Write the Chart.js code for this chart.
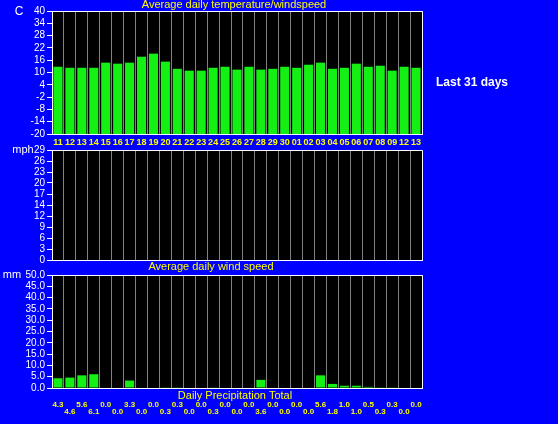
<!DOCTYPE html>
<html>
<head>
<meta charset="utf-8">
<script src="https://cdn.jsdelivr.net/npm/chart.js@4"></script>
<style>
  html, body { margin: 0; padding: 0; background: #0000ff; width: 558px; height: 424px; overflow: hidden; }
  canvas { position: absolute; left: 0; }
  #c1 { top: 0; }
  #c2 { top: 140px; }
  #c3 { top: 264px; }
  #period { position: absolute; left: 436px; top: 75px; color: #fff; font: bold 12px 'Liberation Sans', Arial, sans-serif; }
</style>
</head>
<body>
<canvas id="c1" width="558" height="150"></canvas>
<canvas id="c2" width="558" height="134"></canvas>
<canvas id="c3" width="558" height="160"></canvas>
<div id="period">Last 31 days</div>
<script>
const days = ['11','12','13','14','15','16','17','18','19','20','21','22','23','24','25','26','27','28','29','30',
              '01','02','03','04','05','06','07','08','09','12','13']
const temperature = [12.8, 12.3, 12.3, 12.3, 14.8, 14.3, 14.8, 17.7, 19.2, 15.3, 11.8, 10.9, 10.9, 12.3, 12.8, 11.4,
                     12.8, 11.4, 11.8, 12.8, 12.3, 13.8, 14.8, 11.8, 12.3, 14.3, 12.8, 13.3, 10.9, 12.8, 12.3]
const windSpeed = []
const precipitation = [4.3, 4.6, 5.6, 6.1, 0.0, 0.0, 3.3, 0.0, 0.0, 0.3, 0.3, 0.0, 0.0, 0.3, 0.0, 0.0,
                       0.0, 3.6, 0.0, 0.0, 0.0, 0.0, 5.6, 1.8, 1.0, 1.0, 0.5, 0.3, 0.3, 0.0, 0.0]
const tempTicks = ['-20','-14','-8','-2','4','10','16','22','28','34','40']
const windTicks = ['0','3','6','9','12','14','17','20','23','26','29']
const rainTicks = ['0.0','5.0','10.0','15.0','20.0','25.0','30.0','35.0','40.0','45.0','50.0']

const green = '#14f014'
const yellow = '#ffff00'
const white = '#ffffff'
const gray = '#808080'

Chart.defaults.font.family = "'Liberation Sans', Arial, sans-serif"
Chart.defaults.animation = false

// black plot area, white top/right frame and loose texts
const frame = {
  id: 'frame',
  beforeDraw(chart) {
    const { ctx, chartArea: a } = chart
    ctx.save()
    ctx.fillStyle = '#000'
    ctx.fillRect(a.left, a.top, a.right - a.left, a.bottom - a.top)
    ctx.restore()
  },
  afterDraw(chart, args, opts) {
    const { ctx, chartArea: a } = chart
    ctx.save()
    ctx.strokeStyle = white
    ctx.lineWidth = 1
    ctx.beginPath()
    ctx.moveTo(a.left, Math.round(a.top) + 0.5)
    ctx.lineTo(Math.round(a.right) + 0.5, Math.round(a.top) + 0.5)
    ctx.lineTo(Math.round(a.right) + 0.5, a.bottom)
    ctx.stroke()
    ;(opts.texts || []).forEach(t => {
      ctx.fillStyle = t.color
      ctx.font = t.font
      ctx.textAlign = 'center'
      ctx.textBaseline = 'middle'
      ctx.fillText(t.text, t.x, t.y)
    })
    ctx.restore()
  }
}

function xScale(height, tickOpts) {
  return {
    grid: { color: gray, lineWidth: 1, drawTicks: false, offset: true },
    border: { color: white },
    ticks: Object.assign({ autoSkip: false, maxRotation: 0, minRotation: 0 }, tickOpts),
    afterFit: s => { s.height = height }
  }
}

function yScale(min, max, step, labels) {
  return {
    min: min,
    max: max,
    grid: { drawOnChartArea: false, color: white, tickLength: 5 },
    border: { color: white },
    ticks: {
      stepSize: step,
      autoSkip: false,
      color: white,
      padding: 2,
      font: { size: 10 },
      callback: (v, i) => labels[i]
    },
    afterFit: s => { s.width = 52 }
  }
}

function options(padTop, xs, ys, texts) {
  return {
    responsive: false,
    layout: { padding: { top: padTop, right: 136, left: 0, bottom: 0 } },
    scales: { x: xs, y: ys },
    plugins: {
      legend: { display: false },
      tooltip: { enabled: false },
      frame: { texts: texts }
    }
  }
}

const tempMin = -20
new Chart(document.getElementById('c1'), {
  type: 'bar',
  data: {
    labels: days,
    datasets: [{
      data: temperature.map(v => [tempMin, v]),
      backgroundColor: green,
      barPercentage: 0.76,
      categoryPercentage: 1
    }]
  },
  options: options(11,
    xScale(16, { color: yellow, padding: 3, font: { size: 9, weight: 'bold' } }),
    yScale(tempMin, 40, 6, tempTicks),
    [
      { text: 'Average daily temperature/windspeed', x: 234, y: 5, color: yellow, font: "11px 'Liberation Sans', Arial, sans-serif" },
      { text: 'C', x: 19, y: 12, color: white, font: "12px 'Liberation Sans', Arial, sans-serif" }
    ]),
  plugins: [frame]
})

new Chart(document.getElementById('c2'), {
  type: 'bar',
  data: {
    labels: days,
    datasets: [{
      data: windSpeed,
      backgroundColor: green,
      barPercentage: 0.76,
      categoryPercentage: 1
    }]
  },
  options: options(10,
    xScale(14, { display: false }),
    yScale(0, 29, 2.9, windTicks),
    [
      { text: 'Average daily wind speed', x: 211, y: 127, color: yellow, font: "11px 'Liberation Sans', Arial, sans-serif" },
      { text: 'mph', x: 23, y: 10, color: white, font: "11px 'Liberation Sans', Arial, sans-serif" }
    ]),
  plugins: [frame]
})

new Chart(document.getElementById('c3'), {
  type: 'bar',
  data: {
    labels: days,
    datasets: [{
      data: precipitation,
      backgroundColor: green,
      barPercentage: 0.76,
      categoryPercentage: 1
    }]
  },
  options: options(11,
    xScale(36, {
      color: yellow,
      padding: 13,
      font: { size: 8, weight: 'bold', lineHeight: 0.92 },
      callback: (v, i) => i % 2 ? ['', precipitation[i].toFixed(1)] : [precipitation[i].toFixed(1), '']
    }),
    yScale(0, 50, 5, rainTicks),
    [
      { text: 'Daily Precipitation Total', x: 235, y: 132, color: yellow, font: "11px 'Liberation Sans', Arial, sans-serif" },
      { text: 'mm', x: 12, y: 11, color: white, font: "11px 'Liberation Sans', Arial, sans-serif" }
    ]),
  plugins: [frame]
})
</script>
</body>
</html>
